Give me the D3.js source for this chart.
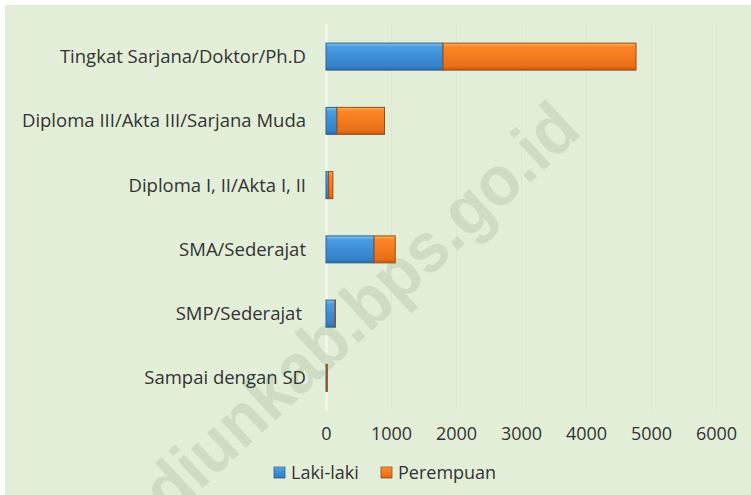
<!DOCTYPE html>
<html lang="id">
<head>
<meta charset="UTF-8">
<title>Pendidikan</title>
<style>
  body { margin:0; background:#fff; }
  svg text { font-family: "Open Sans", "Noto Sans", sans-serif; fill:#333; }
</style>
</head>
<body>
<script src="https://cdn.jsdelivr.net/npm/d3@7/dist/d3.min.js"></script>
<script>
var categories = [
  'Tingkat Sarjana/Doktor/Ph.D',
  'Diploma III/Akta III/Sarjana Muda',
  'Diploma I, II/Akta I, II',
  'SMA/Sederajat',
  'SMP/Sederajat',
  'Sampai dengan SD'
];
var lakiLaki  = [1800, 170, 40, 740, 140, 12];
var perempuan = [2970, 730, 66, 325, 5, 8];
var xTicks = [0, 1000, 2000, 3000, 4000, 5000, 6000];
var seriesNames = ['Laki-laki', 'Perempuan'];

var width = 751, height = 495;

var svg = d3.select('body').append('svg')
    .attr('width', width)
    .attr('height', height);

// gradients for the bevel look
var defs = svg.append('defs');
function grad(id, stops) {
  var g = defs.append('linearGradient').attr('id', id)
    .attr('x1', 0).attr('y1', 0).attr('x2', 0).attr('y2', 1);
  stops.forEach(function(s) {
    g.append('stop').attr('offset', s[0]).attr('stop-color', s[1]);
  });
}
grad('gBlue', [[0, '#7cc8f5'], [0.14, '#4a9ee0'], [0.5, '#3d8ed6'], [0.86, '#3582c8'], [1, '#2a6aa8']]);
grad('gOrange', [[0, '#ffb25a'], [0.14, '#fb8526'], [0.5, '#f47a1f'], [0.86, '#e86f17'], [1, '#c4590f']]);

// background
svg.append('rect')
   .attr('x', 5).attr('y', 5)
   .attr('width', width - 5).attr('height', height - 5)
   .attr('fill', '#e2eed8');

var xScale = d3.scaleLinear().domain([0, 6000]).range([326, 716]);
var yScale = d3.scaleBand().domain(categories).range([24.5, 410])
    .paddingInner(0.58).paddingOuter(0.29);

// faint grid
svg.append('g').selectAll('line')
   .data(xTicks)
   .enter().append('line')
   .attr('x1', function(d) { return xScale(d) + 0.5; })
   .attr('x2', function(d) { return xScale(d) + 0.5; })
   .attr('y1', 24).attr('y2', 410)
   .attr('stroke', function(d) { return d === 0 ? '#f3f7ee' : '#dce9d2'; })
   .attr('stroke-width', function(d) { return d === 0 ? 2 : 1; });

// watermark (runs off the bottom edge like the original)
svg.append('text')
   .attr('transform', 'translate(360,308) rotate(-43)')
   .attr('text-anchor', 'middle')
   .attr('dy', '0.35em')
   .attr('textLength', 565)
   .attr('lengthAdjust', 'spacingAndGlyphs')
   .style('font-family', 'Liberation Sans, Arial, sans-serif')
   .style('font-weight', 'bold')
   .style('font-size', '70px')
   .style('fill', '#b9ccad')
   .style('opacity', 0.5)
   .text('diunkab.bps.go.id');

// stacked data
var rows = categories.map(function(c, i) {
  return { cat: c, laki: lakiLaki[i], per: perempuan[i] };
});
var stack = d3.stack().keys(['laki', 'per'])(rows);
var fills = ['url(#gBlue)', 'url(#gOrange)'];
var strokes = ['#2f5f8e', '#9c4d12'];

svg.append('g').selectAll('g')
   .data(stack)
   .enter().append('g')
   .attr('fill', function(d, i) { return fills[i]; })
   .attr('stroke', function(d, i) { return strokes[i]; })
   .attr('stroke-width', 1)
   .selectAll('rect')
   .data(function(d) { return d; })
   .enter().append('rect')
   .attr('x', function(d) { return xScale(d[0]); })
   .attr('y', function(d) { return yScale(d.data.cat); })
   .attr('width', function(d) { return Math.max(0, xScale(d[1]) - xScale(d[0])); })
   .attr('height', yScale.bandwidth());

// category labels
svg.append('g').selectAll('text')
   .data(categories)
   .enter().append('text')
   .attr('x', function(d) { return d === 'SMP/Sederajat' ? 302 : 306; })
   .attr('y', function(d) { return yScale(d) + yScale.bandwidth() / 2; })
   .attr('dy', '0.35em')
   .attr('text-anchor', 'end')
   .style('font-size', '18.5px')
   .text(function(d) { return d; });

// x axis labels
var xAxis = d3.axisBottom(xScale).tickValues(xTicks).tickSize(0)
    .tickFormat(d3.format('d'));
var gx = svg.append('g').attr('transform', 'translate(0,434)').call(xAxis);
gx.select('.domain').remove();
gx.selectAll('text')
  .attr('y', 0)
  .attr('dy', '0.35em')
  .style('font-size', '18px')
  .style('font-family', '"Open Sans", sans-serif')
  .attr('fill', '#333');

// legend
var legendX = [274, 381];
var legendFill = ['url(#gBlue)', 'url(#gOrange)'];
var lg = svg.append('g').selectAll('g')
   .data(seriesNames)
   .enter().append('g')
   .attr('transform', function(d, i) { return 'translate(' + legendX[i] + ',467)'; });
lg.append('rect')
  .attr('width', 11).attr('height', 11)
  .attr('fill', function(d, i) { return legendFill[i]; })
  .attr('stroke', function(d, i) { return strokes[i]; })
  .attr('stroke-width', 0.8);
lg.append('text')
  .attr('x', 17).attr('y', 5.5)
  .attr('dy', '0.35em')
  .style('font-size', '18px')
  .text(function(d) { return d; });
</script>
</body>
</html>
